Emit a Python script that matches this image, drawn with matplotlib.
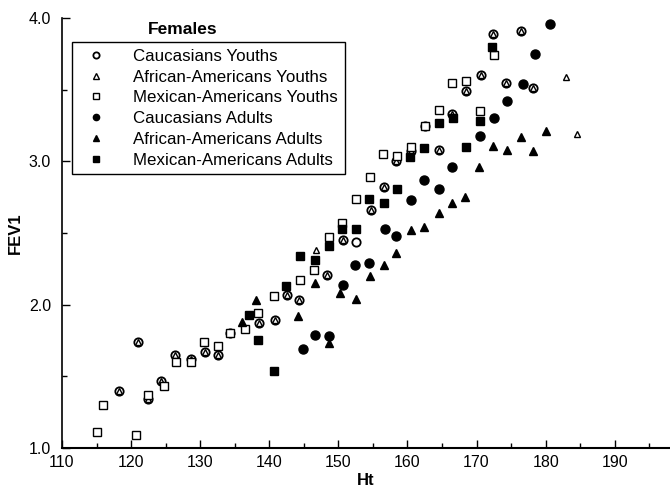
import matplotlib.pyplot as plt
from matplotlib.ticker import MultipleLocator, FormatStrFormatter

plt.rcParams['font.family'] = ['Liberation Sans', 'DejaVu Sans']

# Caucasians youths (open circles)
cy_ht = [118.2, 121.0, 122.4, 124.4, 126.4, 128.6, 130.7, 132.6, 134.3, 138.5,
         140.8, 142.5, 144.3, 148.4, 150.6, 152.6, 154.7, 156.6, 158.4, 160.5,
         162.5, 164.5, 166.4, 168.5, 170.7, 172.4, 174.3, 176.4, 178.1]
cy_fev = [1.40, 1.74, 1.34, 1.47, 1.65, 1.62, 1.67, 1.65, 1.80, 1.87,
          1.89, 2.07, 2.03, 2.21, 2.45, 2.44, 2.66, 2.82, 3.00, 3.07,
          3.25, 3.08, 3.33, 3.49, 3.60, 3.89, 3.55, 3.91, 3.51]

# African-Americans youths (open triangles, mostly hidden under the circles)
ay_ht = [118.2, 121.0, 122.4, 124.4, 126.4, 128.6, 130.7, 132.6, 134.3, 136.5,
         138.5, 140.8, 142.5, 144.3, 146.8, 148.4, 150.6, 154.7, 156.6, 158.4,
         160.5, 162.5, 164.5, 166.4, 168.5, 170.7, 172.4, 174.3, 176.4, 178.1,
         183.0, 184.5]
ay_fev = [1.40, 1.74, 1.34, 1.47, 1.65, 1.62, 1.67, 1.65, 1.80, 1.83,
          1.87, 1.89, 2.07, 2.03, 2.38, 2.21, 2.45, 2.66, 2.82, 3.00,
          3.07, 3.25, 3.08, 3.33, 3.49, 3.60, 3.89, 3.55, 3.91, 3.51,
          3.59, 3.19]

# Mexican-Americans youths (open squares)
my_ht = [115.0, 116.0, 120.7, 122.4, 124.7, 126.5, 128.6, 130.5, 132.6, 134.3,
         136.5, 138.4, 140.7, 144.5, 146.5, 148.6, 150.5, 152.5, 154.6, 156.5,
         158.5, 160.5, 162.5, 164.5, 166.5, 168.5, 170.5, 172.5]
my_fev = [1.11, 1.30, 1.09, 1.37, 1.43, 1.60, 1.60, 1.74, 1.71, 1.80,
          1.83, 1.94, 2.06, 2.17, 2.24, 2.47, 2.57, 2.74, 2.89, 3.05,
          3.04, 3.10, 3.25, 3.36, 3.55, 3.56, 3.35, 3.74]

# Caucasians adults (filled circles)
ca_ht = [144.9, 146.6, 148.7, 150.6, 152.4, 154.4, 156.7, 158.4, 160.5, 162.4,
         164.5, 166.4, 170.5, 172.5, 174.4, 176.7, 178.4, 180.6]
ca_fev = [1.69, 1.79, 1.78, 2.14, 2.28, 2.29, 2.53, 2.48, 2.73, 2.87,
          2.81, 2.96, 3.18, 3.30, 3.42, 3.54, 3.75, 3.96]

# African-Americans adults (filled triangles)
aa_ht = [136.0, 138.1, 144.1, 146.6, 148.7, 150.3, 152.6, 154.6, 156.6, 158.4,
         160.5, 162.4, 164.5, 166.5, 168.3, 170.4, 172.4, 174.4, 176.4, 178.2,
         180.0]
aa_fev = [1.88, 2.03, 1.92, 2.15, 1.73, 2.08, 2.04, 2.20, 2.28, 2.36,
          2.52, 2.54, 2.64, 2.71, 2.75, 2.96, 3.11, 3.08, 3.17, 3.07,
          3.21]

# Mexican-Americans adults (filled squares)
ma_ht = [137.1, 138.4, 140.7, 142.4, 144.4, 146.6, 148.6, 150.5, 152.6, 154.4,
         156.6, 158.5, 160.4, 162.4, 164.6, 166.6, 168.5, 170.5, 172.2]
ma_fev = [1.93, 1.75, 1.54, 2.13, 2.34, 2.31, 2.41, 2.53, 2.53, 2.74,
          2.71, 2.81, 3.03, 3.09, 3.27, 3.30, 3.10, 3.28, 3.80]

W, H = 670, 493
fig = plt.figure(figsize=(W / 100, H / 100), dpi=100)
ax = fig.add_axes([62 / W, 1 - 448 / H, (W - 62) / W, (448 - 18) / H])

h1, = ax.plot(cy_ht, cy_fev, 'o', ms=6, mfc='white', mec='black', mew=1.3,
              ls='none', label='Caucasians Youths')
h2, = ax.plot(ay_ht, ay_fev, '^', ms=4, mfc='white', mec='black', mew=1.0,
              ls='none', label='African-Americans Youths')
h3, = ax.plot(my_ht, my_fev, 's', ms=6, mfc='white', mec='black', mew=1.0,
              ls='none', label='Mexican-Americans Youths')
h4, = ax.plot(ca_ht, ca_fev, 'o', ms=6.5, color='black', ls='none',
              label='Caucasians Adults')
h5, = ax.plot(aa_ht, aa_fev, '^', ms=6, color='black', ls='none',
              label='African-Americans Adults')
h6, = ax.plot(ma_ht, ma_fev, 's', ms=6, color='black', ls='none',
              label='Mexican-Americans Adults')

ax.set_xlim(110, 198)
ax.set_ylim(1.0, 4.0)
ax.xaxis.set_major_locator(MultipleLocator(10))
ax.xaxis.set_minor_locator(MultipleLocator(5))
ax.yaxis.set_major_locator(MultipleLocator(1.0))
ax.yaxis.set_minor_locator(MultipleLocator(0.5))
ax.yaxis.set_major_formatter(FormatStrFormatter('%.1f'))
ax.tick_params(which='both', direction='in', labelsize=11.5, width=1.0)
ax.tick_params(which='major', length=6)
ax.tick_params(which='minor', length=3.5)
ax.tick_params(axis='x', pad=5)
ax.tick_params(axis='y', pad=8)
ax.spines['top'].set_visible(False)
ax.spines['right'].set_visible(False)
ax.spines['left'].set_linewidth(1.2)
ax.spines['bottom'].set_linewidth(1.5)

ax.set_xlabel('Ht', fontsize=12, fontweight='bold', labelpad=2)
ax.set_ylabel('FEV1', fontsize=12, fontweight='bold', labelpad=4)

leg = ax.legend(handles=[h1, h2, h3, h4, h5, h6], loc='upper left',
                bbox_to_anchor=(72 / W, 1 - 42 / H), bbox_transform=fig.transFigure,
                borderaxespad=0, fancybox=False, edgecolor='black',
                fontsize=12.2, borderpad=0.4,
                handlelength=2.0, handletextpad=1.2, labelspacing=0.34)
leg.get_frame().set_linewidth(1.0)
leg.get_frame().set_alpha(1)
for lh in leg.legend_handles:
    lh.set_markersize(4.5)

fig.text(183 / W, 1 - 29 / H, 'Females', fontsize=12.5, fontweight='bold',
         ha='center', va='center')

fig.savefig('out.png', dpi=100)
